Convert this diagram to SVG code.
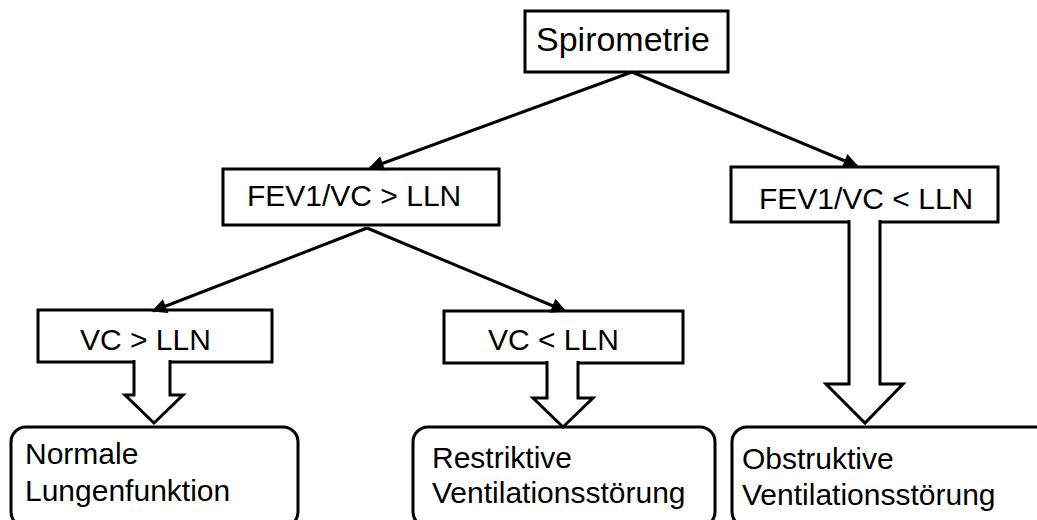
<svg xmlns="http://www.w3.org/2000/svg" width="1037" height="520" viewBox="0 0 1037 520">
<defs>
<style>
.box{fill:#fff;stroke:#000;stroke-width:3}
.t{font-family:"Liberation Sans",Arial,sans-serif;font-size:30px;fill:#000}
.ln{stroke:#000;stroke-width:3;fill:none}
.blk{fill:#fff;stroke:#000;stroke-width:3;stroke-linejoin:miter}
</style>
<marker id="ah" viewBox="0 0 10 10" refX="9" refY="5" markerWidth="6" markerHeight="5" markerUnits="strokeWidth" orient="auto">
<path d="M0,0 L10,5 L0,10 z" fill="#000"/>
</marker>
</defs>
<rect width="1037" height="520" fill="#fff"/>
<g id="n-spiro">
<rect class="box" x="525" y="11" width="203" height="61"/>
<text class="t" x="536" y="51" style="font-size:34px">Spirometrie</text>
</g>
<g id="n-fev-gt">
<rect class="box" x="223" y="169" width="276" height="56"/>
<text class="t" x="247" y="206">FEV1/VC &gt; LLN</text>
</g>
<g id="n-fev-lt">
<rect class="box" x="731" y="167" width="267" height="55"/>
<text class="t" x="759" y="209">FEV1/VC &lt; LLN</text>
</g>
<g id="n-vc-gt">
<rect class="box" x="38" y="310" width="234" height="52"/>
<text class="t" x="80" y="350">VC &gt; LLN</text>
</g>
<g id="n-vc-lt">
<rect class="box" x="444" y="311" width="239" height="52"/>
<text class="t" x="488" y="350">VC &lt; LLN</text>
</g>
<g id="n-normal">
<rect class="box" x="11" y="427" width="287" height="100" rx="15" ry="15"/>
<text class="t" x="25" y="464">Normale</text>
<text class="t" x="25" y="501">Lungenfunktion</text>
</g>
<g id="n-restr">
<rect class="box" x="413" y="427" width="302" height="100" rx="15" ry="15"/>
<text class="t" x="432" y="468">Restriktive</text>
<text class="t" x="432" y="503">Ventilationsstörung</text>
</g>
<g id="n-obstr">
<rect class="box" x="732" y="427" width="320" height="100" rx="15" ry="15"/>
<text class="t" x="742" y="469">Obstruktive</text>
<text class="t" x="742" y="505">Ventilationsstörung</text>
</g>
<g id="connectors">
<line class="ln" x1="632" y1="72" x2="370" y2="168" marker-end="url(#ah)"/>
<line class="ln" x1="632" y1="72" x2="857" y2="166" marker-end="url(#ah)"/>
<line class="ln" x1="367" y1="228" x2="153" y2="311" marker-end="url(#ah)"/>
<line class="ln" x1="367" y1="228" x2="565" y2="311" marker-end="url(#ah)"/>
<path class="blk" d="M134,360 L134,395 L125,395 L154,423 L183,395 L170,395 L170,360"/>
<path class="blk" d="M547,361 L547,398 L533,398 L563,427 L593,398 L578,398 L578,361"/>
<path class="blk" d="M849,220 L849,384 L826,384 L865,423 L903,384 L880,384 L880,220"/>
</g>
</svg>
